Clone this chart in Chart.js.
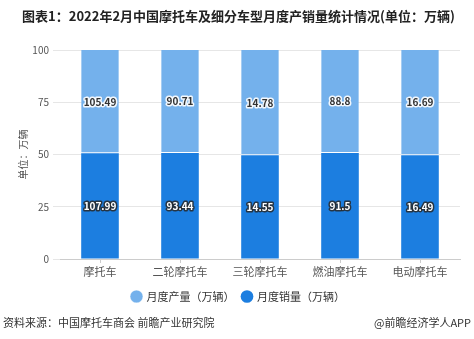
<!DOCTYPE html>
<html>
<head>
<meta charset="utf-8">
<script src="https://cdn.jsdelivr.net/npm/chart.js@4"></script>
<style>
  html, body { margin: 0; padding: 0; background: #fff; }
  #wrap { width: 474px; height: 339px; position: relative; }
</style>
</head>
<body>
<div id="wrap"><canvas id="c" width="474" height="339"></canvas></div>
<script>
const categories = ['摩托车', '二轮摩托车', '三轮摩托车', '燃油摩托车', '电动摩托车'];
const production = [105.49, 90.71, 14.78, 88.8, 16.69];
const sales = [107.99, 93.44, 14.55, 91.5, 16.49];
const yTicks = [0, 25, 50, 75, 100];
const seriesNames = ['月度产量（万辆）', '月度销量（万辆）'];
const titleText = '图表1：2022年2月中国摩托车及细分车型月度产销量统计情况(单位：万辆)';
const sourceText = '资料来源：中国摩托车商会 前瞻产业研究院';
const creditText = '@前瞻经济学人APP';

const FONT = '"Noto Sans CJK SC", "Noto Sans", sans-serif';
const LIGHT = '#74b1ec';
const DARK = '#1c7ee0';

// 100% stacked shares
const salesShare = sales.map((v, i) => v / (v + production[i]) * 100);
const prodShare = production.map((v, i) => v / (v + sales[i]) * 100);
const rawValues = [production, sales];

const labelPlugin = {
  id: 'valueLabels',
  afterDatasetsDraw(chart) {
    const ctx = chart.ctx;
    ctx.save();
    ctx.font = 'bold 10px ' + FONT;
    ctx.textAlign = 'center';
    ctx.textBaseline = 'middle';
    ctx.lineJoin = 'round';
    chart.data.datasets.forEach((ds, di) => {
      const meta = chart.getDatasetMeta(di);
      meta.data.forEach((bar, i) => {
        const y = (bar.y + bar.base) / 2;
        const txt = String(rawValues[ds.rawIndex][i]);
        if (ds.rawIndex === 0) {
          ctx.lineWidth = 3; ctx.strokeStyle = 'rgba(255,255,255,0.9)';
          ctx.strokeText(txt, bar.x, y);
          ctx.fillStyle = '#333';
        } else {
          ctx.lineWidth = 3; ctx.strokeStyle = 'rgba(40,40,40,0.85)';
          ctx.strokeText(txt, bar.x, y);
          ctx.fillStyle = '#fff';
        }
        ctx.fillText(txt, bar.x, y);
      });
    });
    ctx.restore();
  }
};

const footerPlugin = {
  id: 'footerText',
  afterDraw(chart) {
    const ctx = chart.ctx;
    ctx.save();
    ctx.font = '11px ' + FONT;
    ctx.fillStyle = '#333';
    ctx.textBaseline = 'middle';
    ctx.textAlign = 'left';
    ctx.fillText(sourceText, 3, 323);
    ctx.textAlign = 'right';
    ctx.fillText(creditText, 471, 323);
    ctx.restore();
  }
};

new Chart(document.getElementById('c'), {
  type: 'bar',
  data: {
    labels: categories,
    datasets: [
      { label: seriesNames[1], rawIndex: 1, data: salesShare, backgroundColor: DARK,
        borderWidth: 0, barPercentage: 0.94, categoryPercentage: 0.5 },
      { label: seriesNames[0], rawIndex: 0, data: prodShare, backgroundColor: LIGHT,
        borderColor: '#ffffff', borderWidth: { bottom: 1, top: 0, left: 0, right: 0 }, borderSkipped: false,
        barPercentage: 0.94, categoryPercentage: 0.5 }
    ]
  },
  options: {
    responsive: false,
    animation: false,
    layout: { padding: { left: 17, right: 14, top: 4, bottom: 27 } },
    scales: {
      x: {
        stacked: true,
        grid: { display: true, drawOnChartArea: false, offset: false, tickLength: 4, color: '#cccccc' },
        border: { display: true, color: '#cccccc' },
        ticks: { color: '#555', font: { family: FONT, size: 11 }, padding: 2 },
        afterFit(scale) { scale.height = 24; }
      },
      y: {
        stacked: true,
        min: 0, max: 100,
        afterBuildTicks(scale) { scale.ticks = yTicks.map(v => ({ value: v })); },
        grid: { color: '#e6e6e6', tickLength: 7 },
        border: { display: false },
        ticks: { color: '#555', font: { family: FONT, size: 10 }, padding: 4 },
        title: { display: true, text: '单位：万辆', color: '#555', font: { family: FONT, size: 10 }, padding: { top: 0, bottom: 0 } },
        afterFit(scale) { scale.width = 43; }
      }
    },
    plugins: {
      title: { display: true, text: titleText, color: '#222', font: { family: FONT, size: 13, weight: 'bold' }, padding: { top: 4, bottom: 26.5 } },
      legend: {
        position: 'bottom',
        reverse: true,
        labels: { usePointStyle: true, pointStyle: 'circle', boxWidth: 9, boxHeight: 9, color: '#333', font: { family: FONT, size: 11 }, padding: 8 }
      },
      tooltip: { enabled: false }
    }
  },
  plugins: [labelPlugin, footerPlugin]
});
</script>
</body>
</html>
